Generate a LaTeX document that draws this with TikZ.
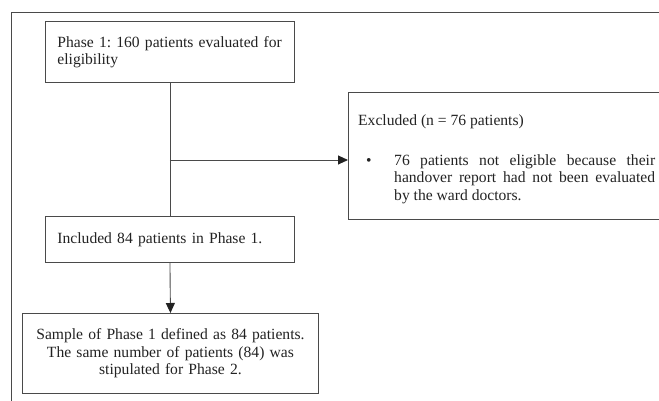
\documentclass[tikz,border=0pt]{standalone}
\usepackage{fontspec}
\setmainfont{Liberation Serif}
\frenchspacing
\usetikzlibrary{arrows.meta}
\definecolor{linegray}{HTML}{4A4A4A}
\definecolor{textgray}{HTML}{222222}
\tikzset{
  flowbox/.style={draw=linegray, line width=0.9pt, anchor=north west, inner ysep=0pt, text=textgray,
    font=\fontsize{15.6}{17.5}\selectfont},
  flowtext/.style={text=textgray, inner sep=0pt, font=\fontsize{15.6}{17.5}\selectfont},
  link/.style={draw=linegray, line width=0.9pt},
  arrowlink/.style={link, -{Triangle[length=10pt,width=9pt,color=textgray]}}
}
\begin{document}
\begin{tikzpicture}[x=1pt, y=-1pt]
\useasboundingbox (0,0) rectangle (659,401);
\draw[link] (11,405) -- (11,12) -- (665,12); % outer frame

\node[flowbox, text width=225pt, inner xsep=12pt, minimum height=61pt, align=left] (screened) at (45,21)
  {\mbox{Phase 1: 160 patients evaluated for}\\eligibility}; % top box
\node[flowbox, minimum width=340pt, minimum height=127pt] (excluded) at (348,92) {}; % right box
\node[flowtext, anchor=base west] (exclhead) at (358,126) {Excluded (n = 76 patients)}; % heading
\node[flowtext, anchor=base west] (bullet) at (366,166) {\textbullet}; % bullet
\node[flowtext, anchor=north west, text width=261pt, align=justify] (reason) at (394,154)
  {76 patients not eligible because their\linebreak handover report had not been evaluated\linebreak by the ward doctors.}; % reason
\node[flowbox, text width=225pt, inner xsep=12pt, minimum height=46pt, align=left] (included) at (45,216)
  {Included 84 patients in Phase 1.}; % middle box
\node[flowbox, text width=272pt, inner xsep=12pt, minimum height=80pt, align=center] (sample) at (22,313)
  {Sample of Phase 1 defined as 84 patients.\\The same number of patients (84) was\\stipulated for Phase 2.}; % bottom box

\coordinate (split) at (screened.south |- 0,160); % branch point
\draw[link] (screened.south) -- (included.north); % main line
\draw[arrowlink] (split) -- (split -| excluded.west); % to excluded
\draw[arrowlink] (included.south) -- (sample.north); % to sample

\end{tikzpicture}
\end{document}
